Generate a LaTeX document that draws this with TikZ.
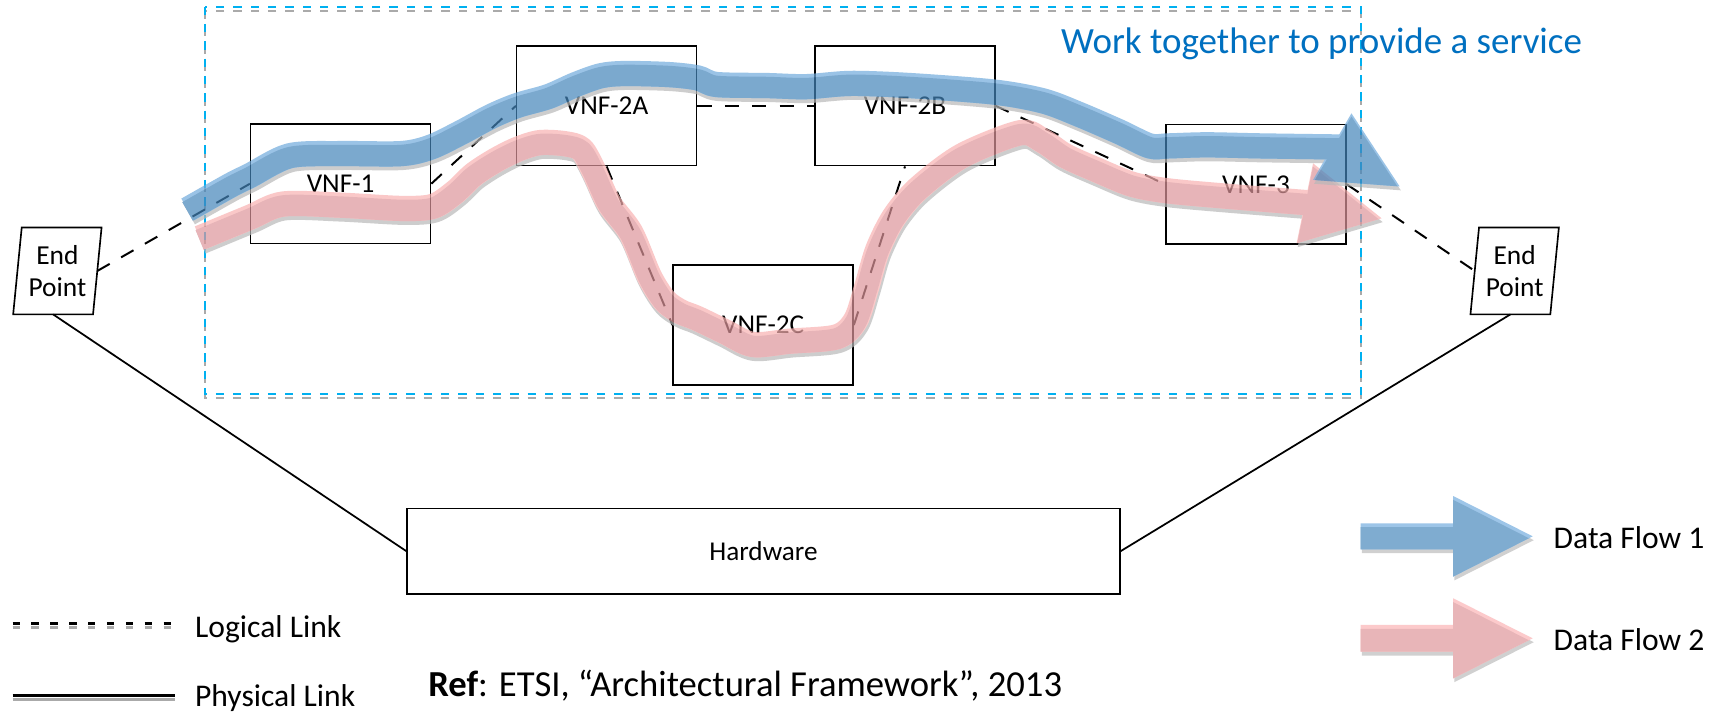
\documentclass[tikz,border=0pt]{standalone}
\usepackage{fontspec}
\setmainfont{Carlito}
\usetikzlibrary{calc}

\definecolor{svcblue}{RGB}{0,112,192}
\definecolor{frameblue}{RGB}{0,176,240}
\definecolor{framegray}{RGB}{170,170,170}
\definecolor{flowA}{RGB}{68,133,186}
\definecolor{flowAlight}{RGB}{112,170,220}
\definecolor{flowB}{RGB}{222,149,154}
\definecolor{flowBlight}{RGB}{248,178,178}
\definecolor{flowshadow}{RGB}{184,184,184}
\definecolor{legA}{RGB}{127,172,208}
\definecolor{legAlight}{RGB}{157,197,232}
\definecolor{legB}{RGB}{232,181,184}
\definecolor{legBlight}{RGB}{252,202,203}
\definecolor{legshadow}{RGB}{208,208,208}

\tikzset{
  vnf/.style={draw=black, line width=0.7pt, minimum width=82pt, minimum height=54.5pt,
    inner sep=0pt, font=\fontsize{12.4}{14}\selectfont},
  hwbox/.style={draw=black, line width=0.75pt, minimum width=324.75pt, minimum height=39pt,
    inner sep=0pt, font=\fontsize{12.4}{14}\selectfont},
  endpt/.style={minimum width=36pt, minimum height=39.2pt, inner sep=0pt, align=center,
    font=\fontsize{12.5}{14.9}\selectfont},
  logical/.style={dash pattern=on 6.5pt off 6pt, line width=0.9pt},
  physical/.style={line width=0.8pt},
  legendtext/.style={anchor=base west, inner sep=0pt, font=\fontsize{14.4}{16}\selectfont},
  band/.style={line width=11.5pt, line cap=butt, line join=round},
  bandcore/.style={line width=9.75pt, line cap=butt, line join=round},
  framedash/.style={dash pattern=on 3.8pt off 4.1pt, line width=0.9pt},
}

% centre lines of the two data flows and their heads
\def\flowApath{plot[smooth, tension=0.5] coordinates {(171,191) (210,169) (228,160) (264,142)
  (310,140) (366,140) (393,134) (420,121) (448,106) (472,96) (500,88) (525,77) (548,69) (570,67)
  (610,68) (636,71) (653,77) (700,78) (735,79) (776,76) (830,78) (907,84) (951,92) (983,104)
  (1020,120) (1048,133) (1065,133) (1100,132) (1150,133) (1223,134)}}
\def\flowAhead{(1232,103.3) -- (1276,170) -- (1197,164) -- cycle}
\def\flowBpath{plot[smooth, tension=0.5] coordinates {(182,217) (228,198) (258,186) (310,187)
  (366,190) (395,188) (415,175) (432,159) (452,146) (472,136) (492,130) (515,131) (530,136)
  (541,155) (555,185) (575,212) (592,252) (606,274) (620,284) (635,290) (660,302) (686,314)
  (720,311) (763,307) (780,292) (790,262) (800,228) (815,198) (837,172) (877,142) (930,121)
  (950,128) (971,142) (1000,155) (1032,168) (1065,174) (1120,179) (1195,185)}}
\def\flowBhead{(1197,148.9) -- (1259.5,199) -- (1182,221.8) -- cycle}

% legend arrows
\def\legarrowA{(1240.4,477) -- (1324.8,477) -- (1324.8,452.2) -- (1397.2,488.9)
  -- (1324.8,525.6) -- (1324.8,500.8) -- (1240.4,500.8) -- cycle}
\def\legarrowB{(1240.4,569.7) -- (1324.8,569.7) -- (1324.8,545.4) -- (1397.2,581.9)
  -- (1324.8,618.4) -- (1324.8,594.1) -- (1240.4,594.1) -- cycle}

\begin{document}
\begin{tikzpicture}[x=0.5pt, y=-0.5pt]
\useasboundingbox (0,0) rectangle (1568,649);
\fill[white] (0,0) rectangle (1568,649);

% service frame (dashed, with a grey echo)
\draw[framedash, framegray, shift={(0,3.6)}] (186.8,6) rectangle (1240.4,359.5);
\draw[framedash, frameblue] (186.8,6) rectangle (1240.4,359.5);
\node[anchor=base west, inner sep=0pt, text=svcblue, font=\fontsize{16.85}{20}\selectfont]
  (title) at (967,48.6) {Work together to provide a service};

% functions
\node[vnf] (v1)  at (310.5,167.5) {VNF-1};
\node[vnf] (v2a) at (553,96.5)    {VNF-2A};
\node[vnf] (v2b) at (825,96.5)    {VNF-2B};
\node[vnf] (v2c) at (695.7,296.3) {VNF-2C};
\node[vnf] (v3)  at (1145,168)    {VNF-3};
\node[hwbox] (hw) at (696,502.5)  {Hardware};

% end points (slanted boxes)
\node[endpt] (epL) at (52.3,247)   {End\\Point};
\node[endpt] (epR) at (1380.8,247) {End\\Point};
\foreach \ep in {epL,epR}{
  \draw[line width=0.75pt] ($(\ep.north west)+(3.9,0)$) -- ($(\ep.north east)+(3.9,0)$)
    -- ($(\ep.south east)+(-3.9,0)$) -- ($(\ep.south west)+(-3.9,0)$) -- cycle;
}

% logical links
\draw[logical] (epL.east) -- (v1.west);
\draw[logical] (v1.east) -- (v2a.west);
\draw[logical] (v2a.east) -- (v2b.west);
\draw[logical] (v2a.south) -- (v2c.west);
\draw[logical] (v2c.east) -- (v2b.south);
\draw[logical] (v2b.east) -- (v3.west);
\draw[logical] (v3.east) -- (epR.west);

% physical links
\draw[physical] ($(epL.south)+(-3.9,0)$) -- (hw.west);
\draw[physical] ($(epR.south)+(-3.9,0)$) -- (hw.east);

% data flow 2
\begin{scope}[transparency group, opacity=0.7]
  \begin{scope}[shift={(1,3.5)}]
    \draw[band, flowshadow] \flowBpath;
    \fill[flowshadow] \flowBhead;
  \end{scope}
  \draw[band, flowBlight] \flowBpath;
  \fill[flowBlight] \flowBhead;
  \begin{scope}[shift={(0,1.75)}]
    \draw[bandcore, flowB] \flowBpath;
  \end{scope}
  \begin{scope}
    \clip \flowBhead;
    \fill[flowB, shift={(0,3)}] \flowBhead;
  \end{scope}
\end{scope}

% data flow 1
\begin{scope}[transparency group, opacity=0.7]
  \begin{scope}[shift={(1,3.5)}]
    \draw[band, flowshadow] \flowApath;
    \fill[flowshadow] \flowAhead;
  \end{scope}
  \draw[band, flowAlight] \flowApath;
  \fill[flowAlight] \flowAhead;
  \begin{scope}[shift={(0,1.75)}]
    \draw[bandcore, flowA] \flowApath;
  \end{scope}
  \begin{scope}
    \clip \flowAhead;
    \fill[flowA, shift={(0,3)}] \flowAhead;
  \end{scope}
\end{scope}

% legend: link styles
\draw[dash pattern=on 3.35pt off 5.25pt, line width=1.1pt, framegray] (11.5,571.9) -- (155.6,571.9);
\draw[dash pattern=on 3.35pt off 5.25pt, line width=1.1pt, black] (11.5,568.2) -- (155.6,568.2);
\node[legendtext] (lgLog) at (177.5,581) {Logical Link};
\draw[line width=1.2pt, framegray] (11.5,637.5) -- (159.5,637.5);
\draw[line width=1.2pt, black] (11.5,634.2) -- (159.5,634.2);
\node[legendtext] (lgPhy) at (177.5,644.5) {Physical Link};

% legend: data flows
\fill[legshadow, shift={(1,3.5)}] \legarrowA;
\fill[legAlight] \legarrowA;
\begin{scope}
  \clip \legarrowA;
  \fill[legA, shift={(0,3.5)}] \legarrowA;
\end{scope}
\node[legendtext] (lgA) at (1416,500) {Data Flow 1};

\fill[legshadow, shift={(1,3.5)}] \legarrowB;
\fill[legBlight] \legarrowB;
\begin{scope}
  \clip \legarrowB;
  \fill[legB, shift={(0,3.5)}] \legarrowB;
\end{scope}
\node[legendtext] (lgB) at (1416,592.6) {Data Flow 2};

% reference
\node[anchor=base west, inner sep=0pt, font=\fontsize{16.7}{20}\selectfont] (ref) at (390,635)
  {\textbf{Ref}: ETSI, “Architectural Framework”, 2013};
\end{tikzpicture}
\end{document}
